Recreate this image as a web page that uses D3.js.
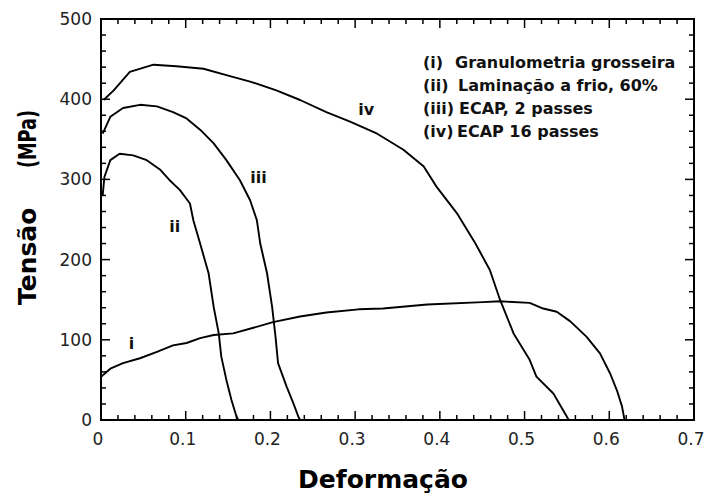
<!DOCTYPE html>
<html><head><meta charset="utf-8">
<script src="https://cdn.jsdelivr.net/npm/d3@7"></script>
<style>body{margin:0;background:#fff}svg{display:block}text{font-family:"DejaVu Sans",sans-serif}</style>
</head><body>
<svg id="c" width="709" height="496"></svg>
<script>
// Data
const strainI  = [0,0.011,0.026,0.046,0.066,0.085,0.101,0.117,0.133,0.156,0.18,0.203,0.235,0.266,0.304,0.333,0.385,0.451,0.471,0.506,0.522,0.538,0.554,0.573,0.589,0.601,0.609,0.615,0.618];
const stressI  = [54,64,71,77,85,93,96,102,106,108,115,122,129,134,138,139,144,147,148,146,139,135,123,104,83,58,37,17,0];
const strainII = [0.002,0.004,0.011,0.022,0.038,0.054,0.07,0.081,0.093,0.105,0.109,0.117,0.127,0.133,0.139,0.142,0.148,0.154,0.16,0.162];
const stressII = [280,303,324,332,330,324,312,299,287,270,249,220,183,141,108,79,50,25,4,0];
const strainIII = [0.002,0.011,0.026,0.046,0.066,0.085,0.101,0.117,0.133,0.148,0.164,0.176,0.184,0.188,0.196,0.202,0.206,0.209,0.219,0.227,0.233,0.235];
const stressIII = [357,378,389,393,391,384,376,362,345,324,299,274,249,220,183,141,104,71,42,21,4,0];
const strainIV = [0.003,0.015,0.034,0.062,0.089,0.121,0.148,0.176,0.207,0.235,0.266,0.294,0.326,0.357,0.381,0.396,0.42,0.442,0.459,0.471,0.487,0.506,0.514,0.534,0.55,0.552];
const stressIV = [399,411,434,443,441,438,430,422,411,399,384,372,357,337,316,291,258,220,187,150,108,75,54,33,4,0];
const curveNames = ["i","ii","iii","iv"];
const labelPos = [[0.036,88],[0.087,234],[0.186,295],[0.313,380]];
const legendPrefix = ["(i)","(ii)","(iii)","(iv)"];
const legendText = ["Granulometria grosseira","Laminação a frio, 60%","ECAP, 2 passes","ECAP 16 passes"];
const xTicks = [0,0.1,0.2,0.3,0.4,0.5,0.6,0.7];
const yTicks = [0,100,200,300,400,500];

const svg = d3.select("#c");
const L=101,R=694,T=19,B=420;
const x = d3.scaleLinear().domain([0,0.7]).range([L,R]);
const y = d3.scaleLinear().domain([0,500]).range([B,T]);

// minor + major ticks on all four sides (inward)
const xMinor = d3.range(0,0.7001,0.02), yMinor = d3.range(0,500.1,20);
const tk = svg.append("g").attr("stroke","#000").attr("stroke-width",1.5);
xMinor.forEach(v=>{
  const maj = Math.abs(v*10-Math.round(v*10))<1e-6, len = maj?9:5;
  tk.append("line").attr("x1",x(v)).attr("x2",x(v)).attr("y1",B).attr("y2",B-len);
  tk.append("line").attr("x1",x(v)).attr("x2",x(v)).attr("y1",T).attr("y2",T+len);
});
yMinor.forEach(v=>{
  const maj = Math.abs(v%100)<1e-6, len = maj?9:5;
  tk.append("line").attr("y1",y(v)).attr("y2",y(v)).attr("x1",L).attr("x2",L+len);
  tk.append("line").attr("y1",y(v)).attr("y2",y(v)).attr("x1",R).attr("x2",R-len);
});
svg.append("rect").attr("x",L).attr("y",T).attr("width",R-L).attr("height",B-T)
  .attr("fill","none").attr("stroke","#000").attr("stroke-width",2);

// tick labels
svg.append("g").selectAll("text").data(xTicks).join("text")
  .attr("x",d=>x(d)-3).attr("y",445).attr("text-anchor","middle")
  .attr("font-size",17).attr("fill","#222").text(d=>d===0?"0":d3.format(".1f")(d));
svg.append("g").selectAll("text").data(yTicks).join("text")
  .attr("x",92).attr("y",d=>y(d)+6).attr("text-anchor","end")
  .attr("font-size",17).attr("fill","#222").text(d=>d);

// curves
const series = [[strainI,stressI],[strainII,stressII],[strainIII,stressIII],[strainIV,stressIV]];
const line = d3.line().x(d=>x(d[0])).y(d=>y(d[1]));
series.forEach(([sx,sy])=>{
  svg.append("path").attr("d",line(sx.map((v,i)=>[v,sy[i]])))
    .attr("fill","none").attr("stroke","#000").attr("stroke-width",1.9).attr("stroke-linejoin","round");
});
// curve labels
curveNames.forEach((n,i)=>{
  svg.append("text").attr("x",x(labelPos[i][0])).attr("y",y(labelPos[i][1]))
    .attr("text-anchor","middle").attr("font-size",16).attr("font-weight","bold").attr("fill","#111").text(n);
});

// legend
const bodyX=[455,458,459,457];
legendText.forEach((t,i)=>{
  const yy = 68+i*23;
  svg.append("text").attr("x",423).attr("y",yy).attr("font-size",16).attr("font-weight","bold").attr("fill","#111").text(legendPrefix[i]);
  svg.append("text").attr("x",bodyX[i]).attr("y",yy).attr("font-size",16).attr("font-weight","bold").attr("fill","#111").text(t);
});

// axis titles
svg.append("text").attr("x",383).attr("y",488).attr("text-anchor","middle")
  .attr("font-size",25).attr("font-weight","bold").text("Deformação");
svg.append("text").attr("transform","translate(36,305) rotate(-90)")
  .attr("font-size",25).attr("font-weight","bold").text("Tensão");
svg.append("text").attr("transform","translate(36,168) rotate(-90)")
  .attr("font-size",25).attr("font-weight","bold").attr("textLength",58).attr("lengthAdjust","spacingAndGlyphs").text("(MPa)");
</script>
</body></html>
